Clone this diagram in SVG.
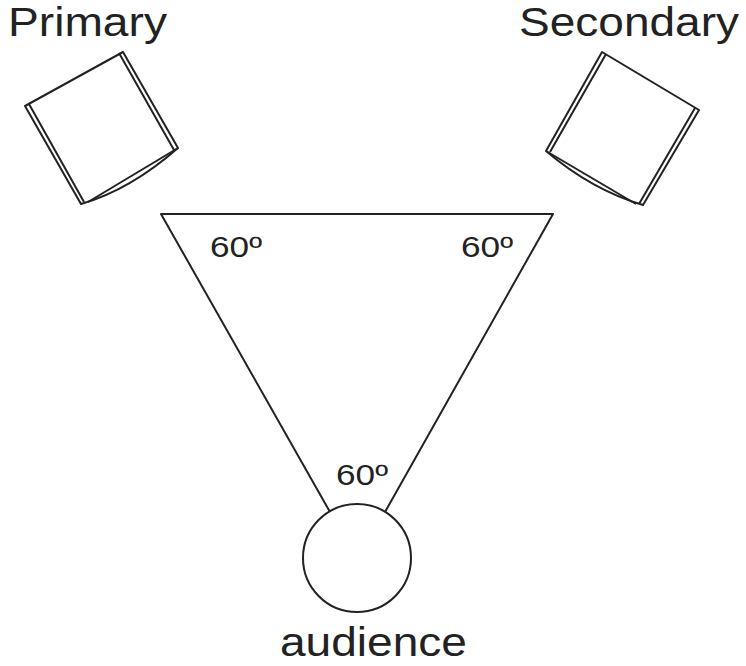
<svg xmlns="http://www.w3.org/2000/svg" width="746" height="666" viewBox="0 0 746 666">
<style>
.l{fill:none;stroke:#222;stroke-width:2;stroke-linejoin:round}
.t{font-family:"Liberation Sans",Arial,sans-serif;fill:#222}
.big{font-size:40px}
.a{font-size:29px}
</style>
<rect width="746" height="666" fill="#fff"/>
<g id="primary">
<path class="l" d="M123,52 L25,106 L81,204 Q130,190 178,148 L123,52 Z"/>
<path class="l" d="M119,53 L174,150 M29,104 L84,202" stroke-width="1.2"/>
<path class="l" d="M88,202 L178,148" stroke-width="1"/>
<text class="t big" x="8" y="36" textLength="159" lengthAdjust="spacingAndGlyphs">Primary</text>
</g>
<g id="secondary">
<path class="l" d="M602,52 L699,110 L643,205 Q592,190 546,151 L602,52 Z"/>
<path class="l" d="M606,54 L550,152 M695,108 L639,204" stroke-width="1.2"/>
<path class="l" d="M546,151 L636,204" stroke-width="1"/>
<text class="t big" x="519" y="36" textLength="220" lengthAdjust="spacingAndGlyphs">Secondary</text>
</g>
<g id="triangle">
<path class="l" d="M330,512 L161,214 L553,214 L385,512" stroke-width="1.8"/>
<text class="t a" x="210" y="257" textLength="52" lengthAdjust="spacingAndGlyphs">60º</text>
<text class="t a" x="461" y="257" textLength="52" lengthAdjust="spacingAndGlyphs">60º</text>
<text class="t a" x="336" y="485" textLength="52" lengthAdjust="spacingAndGlyphs">60º</text>
</g>
<g id="audience">
<circle class="l" cx="357" cy="558" r="54" stroke-width="1.8"/>
<text class="t big" x="280" y="656" textLength="187" lengthAdjust="spacingAndGlyphs">audience</text>
</g>
</svg>
